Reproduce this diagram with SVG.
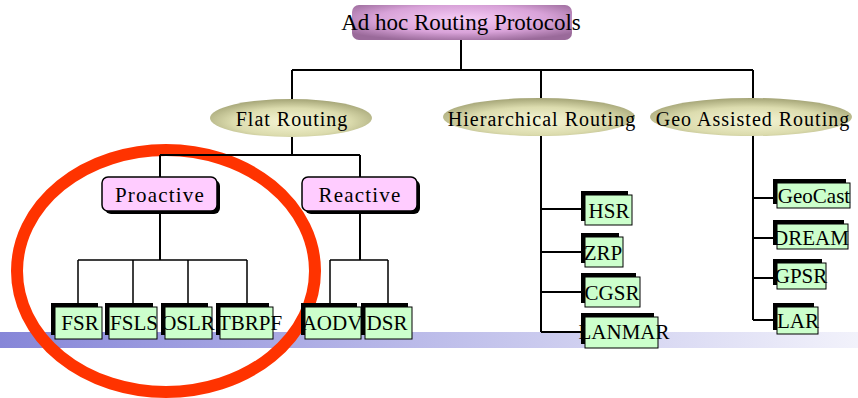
<svg xmlns="http://www.w3.org/2000/svg" width="858" height="398" viewBox="0 0 858 398">
<style>
text{font-family:"Liberation Serif","Times New Roman",serif;fill:#000;text-anchor:middle}
.t{font-size:23px}
.e{font-size:20px;letter-spacing:1px}
.p{font-size:21px;letter-spacing:1.2px}
.l{font-size:21px}
.ln{stroke:#000;stroke-width:2;fill:none}
.ln2{stroke:#000;stroke-width:1.5;fill:none}
.sh{fill:#000}
.lf{fill:#ccffcc;stroke:#000;stroke-width:1}
.pk{fill:#ffccff;stroke:#000;stroke-width:1.5}
</style>
<defs>
<linearGradient id="band" x1="0" y1="0" x2="1" y2="0">
<stop offset="0" stop-color="#8686d8"/>
<stop offset="1" stop-color="#f2f2fb"/>
</linearGradient>
<radialGradient id="olive" cx="0.5" cy="0.6" r="0.6">
<stop offset="0" stop-color="#f6f6d6"/>
<stop offset="0.6" stop-color="#dcdcae"/>
<stop offset="1" stop-color="#a4a476"/>
</radialGradient>
<radialGradient id="purp" cx="0.5" cy="0.4" r="0.65">
<stop offset="0" stop-color="#f6ccf6"/>
<stop offset="0.6" stop-color="#d8a2d8"/>
<stop offset="1" stop-color="#9a6a9a"/>
</radialGradient>
</defs>
<rect width="858" height="398" fill="#fff"/>
<rect x="0" y="332" width="858" height="16" fill="url(#band)"/>
<ellipse cx="166" cy="271" rx="149" ry="121" fill="none" stroke="#ff3300" stroke-width="12"/>
<g id="connectors">
<path class="ln" d="M461,40V70M292,70H753M292,70V99M541,70V98M753,70V98"/>
<path class="ln" d="M292,137V155M160,155H360M160,155V177M360,155V177"/>
<path class="ln" d="M160,213V260M360,213V260"/>
<path class="ln2" d="M78,260H247M78,260V304M133,260V304M188,260V304M247,260V304"/>
<path class="ln2" d="M330,260H388M330,260V304M388,260V304"/>
<path class="ln" d="M541,135V332M541,209H583M541,252H583M541,292H583M541,332H583"/>
<path class="ln" d="M753,135V320M753,198H774M753,238H774M753,278H774M753,320H774"/>
</g>
<g id="root">
<rect x="352" y="5" width="220" height="35" rx="7" fill="url(#purp)"/>
<text class="t" x="461" y="30">Ad hoc Routing Protocols</text>
</g>
<g id="flat">
<ellipse cx="291" cy="118" rx="81" ry="19" fill="url(#olive)"/>
<text class="e" x="292" y="126">Flat Routing</text>
</g>
<g id="hier">
<ellipse cx="539" cy="117" rx="96" ry="19" fill="url(#olive)"/>
<text class="e" x="542" y="126">Hierarchical Routing</text>
</g>
<g id="geo">
<ellipse cx="751" cy="117" rx="101" ry="19" fill="url(#olive)"/>
<text class="e" x="753" y="126">Geo Assisted Routing</text>
</g>
<g id="proactive">
<rect class="sh" x="105" y="180" width="115" height="34" rx="6"/>
<rect class="pk" x="102" y="177" width="115" height="34" rx="6"/>
<text class="p" x="160" y="202">Proactive</text>
</g>
<g id="reactive">
<rect class="sh" x="305" y="180" width="115" height="34" rx="6"/>
<rect class="pk" x="302" y="177" width="115" height="34" rx="6"/>
<text class="p" x="360" y="202">Reactive</text>
</g>
<g id="fsr"><rect class="sh" x="51" y="303" width="47" height="32"/><rect class="lf" x="55" y="307" width="47" height="32"/><text class="l" x="80" y="330">FSR</text></g>
<g id="fsls"><rect class="sh" x="105" y="303" width="48" height="32"/><rect class="lf" x="109" y="307" width="48" height="32"/><text class="l" x="134" y="330">FSLS</text></g>
<g id="oslr"><rect class="sh" x="161" y="303" width="47" height="32"/><rect class="lf" x="165" y="307" width="47" height="32"/><text class="l" x="188" y="330">OSLR</text></g>
<g id="tbrpf"><rect class="sh" x="216" y="303" width="53" height="32"/><rect class="lf" x="220" y="307" width="53" height="32"/><text class="l" x="250" y="330">TBRPF</text></g>
<g id="aodv"><rect class="sh" x="301" y="303" width="56" height="32"/><rect class="lf" x="305" y="307" width="56" height="32"/><text class="l" x="332" y="330">AODV</text></g>
<g id="dsr"><rect class="sh" x="361" y="303" width="47" height="32"/><rect class="lf" x="365" y="307" width="47" height="32"/><text class="l" x="387" y="330">DSR</text></g>
<g id="hsr"><rect class="sh" x="581" y="191" width="47" height="30"/><rect class="lf" x="585" y="195" width="47" height="30"/><text class="l" x="609" y="218">HSR</text></g>
<g id="zrp"><rect class="sh" x="581" y="233" width="38" height="30"/><rect class="lf" x="585" y="237" width="38" height="30"/><text class="l" x="603" y="260">ZRP</text></g>
<g id="cgsr"><rect class="sh" x="581" y="273" width="55" height="30"/><rect class="lf" x="585" y="277" width="55" height="30"/><text class="l" x="612" y="300">CGSR</text></g>
<g id="lanmar"><rect class="sh" x="581" y="313" width="73" height="31"/><rect class="lf" x="585" y="317" width="73" height="31"/><text class="l" x="624" y="339">LANMAR</text></g>
<g id="geocast"><rect class="sh" x="773" y="179" width="73" height="25"/><rect class="lf" x="777" y="183" width="73" height="25"/><text class="l" x="814" y="203">GeoCast</text></g>
<g id="dream"><rect class="sh" x="773" y="220" width="71" height="25"/><rect class="lf" x="777" y="224" width="71" height="25"/><text class="l" x="811" y="245">DREAM</text></g>
<g id="gpsr"><rect class="sh" x="773" y="259" width="49" height="26"/><rect class="lf" x="777" y="263" width="49" height="26"/><text class="l" x="801" y="283">GPSR</text></g>
<g id="lar"><rect class="sh" x="773" y="303" width="41" height="27"/><rect class="lf" x="777" y="307" width="41" height="27"/><text class="l" x="798" y="328">LAR</text></g>
</svg>
